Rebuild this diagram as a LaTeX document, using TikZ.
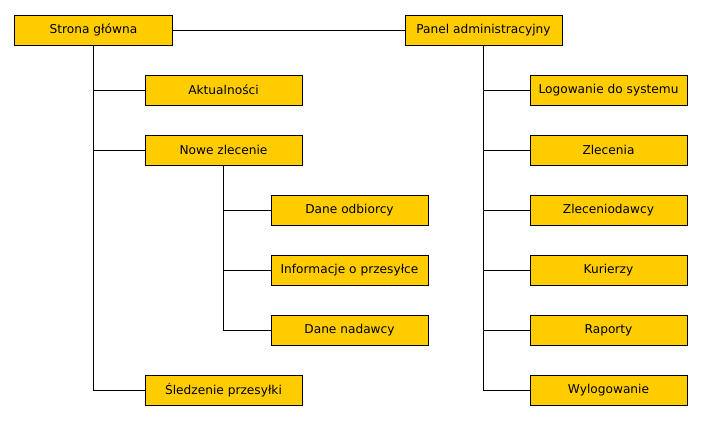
\documentclass[tikz,border=0pt]{standalone}
\usepackage{fontspec}
\setmainfont{DejaVu Sans}
\definecolor{boxyellow}{RGB}{255,204,0}
\tikzset{
    pagebox/.style={draw=black, fill=boxyellow, line width=0.85pt, minimum width=4.71cm, minimum height=0.9cm, inner sep=0pt, font=\fontsize{10.4}{12}\selectfont},
    branch/.style={draw=black, line width=0.85pt}
}
\begin{document}
\begin{tikzpicture}[x=0.03cm, y=-0.03cm]
        \useasboundingbox (0, 0) rectangle (702, 420);

        \node[pagebox] (strona) at (93.5, 30) {Strona główna};
        \node[pagebox] (panel) at (483.5, 30) {Panel administracyjny};

        \node[pagebox] (aktual) at (223.5, 90) {Aktualności};
        \node[pagebox] (nowe) at (223.5, 150) {Nowe zlecenie};
        \node[pagebox] (odbiorca) at (349.5, 210) {Dane odbiorcy};
        \node[pagebox] (info) at (349.5, 270) {Informacje o przesyłce};
        \node[pagebox] (nadawca) at (349.5, 330) {Dane nadawcy};
        \node[pagebox] (sledz) at (223.5, 390) {Śledzenie przesyłki};

        \node[pagebox] (logowanie) at (608.5, 90) {Logowanie do systemu};
        \node[pagebox] (zlecenia) at (608.5, 150) {Zlecenia};
        \node[pagebox] (zleceniodawcy) at (608.5, 210) {Zleceniodawcy};
        \node[pagebox] (kurierzy) at (608.5, 270) {Kurierzy};
        \node[pagebox] (raporty) at (608.5, 330) {Raporty};
        \node[pagebox] (wylog) at (608.5, 390) {Wylogowanie};

        \draw[branch] (strona) -- (panel);

        \draw[branch] (strona.south) |- (aktual.west);
        \draw[branch] (strona.south) |- (nowe.west);
        \draw[branch] (strona.south) |- (sledz.west);

        \draw[branch] (nowe.south) |- (odbiorca.west);
        \draw[branch] (nowe.south) |- (info.west);
        \draw[branch] (nowe.south) |- (nadawca.west);

        \draw[branch] (panel.south) |- (logowanie.west);
        \draw[branch] (panel.south) |- (zlecenia.west);
        \draw[branch] (panel.south) |- (zleceniodawcy.west);
        \draw[branch] (panel.south) |- (kurierzy.west);
        \draw[branch] (panel.south) |- (raporty.west);
        \draw[branch] (panel.south) |- (wylog.west);

    \end{tikzpicture}
\end{document}
